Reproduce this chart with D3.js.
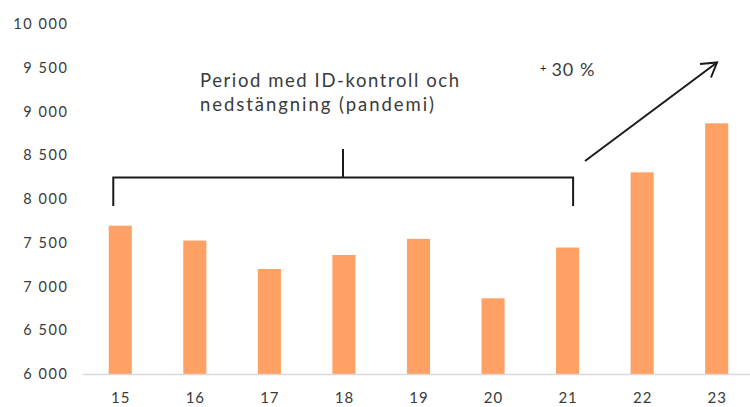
<!DOCTYPE html>
<html><head><meta charset="utf-8">
<script src="https://cdn.jsdelivr.net/npm/d3@7"></script>
<style>body{margin:0;background:#fff}svg{display:block}text{font-family:Lato,"Open Sans",sans-serif;fill:#3a3a3a}</style>
</head><body><svg id="c" width="750" height="407"></svg>
<script>
const categories = ["15","16","17","18","19","20","21","22","23"];
const values = [7695, 7525, 7200, 7360, 7545, 6865, 7445, 8305, 8865];
const yTicks = [6000,6500,7000,7500,8000,8500,9000,9500,10000];
const annotationLines = ["Period med ID-kontroll och","nedstängning (pandemi)"];
const growthLabel = "30 %";

const svg = d3.select("#c");
const x = d3.scaleBand().domain(categories).range([83,754]).paddingInner(0.69).paddingOuter(0.345);
const y = d3.scaleLinear().domain([6000,10000]).range([374,24]);

svg.selectAll("rect.bar").data(values).join("rect")
  .attr("x",(d,i)=>x(categories[i]))
  .attr("width",x.bandwidth())
  .attr("y",d=>y(d))
  .attr("height",d=>y(6000)-y(d))
  .attr("fill","#FFA064");

svg.append("line").attr("x1",83).attr("x2",750).attr("y1",y(6000)+0.5).attr("y2",y(6000)+0.5)
  .attr("stroke","#d9d9d9").attr("stroke-width",1.5);

svg.selectAll("text.ylab").data(yTicks).join("text")
  .attr("x",68.5).attr("y",d=>y(d)).attr("dy","0.35em").attr("text-anchor","end")
  .attr("font-size",14.5).attr("letter-spacing",1.6)
  .text(d=>{const s=String(d);return s.slice(0,s.length-3)+" "+s.slice(-3);});

svg.selectAll("text.xlab").data(categories).join("text")
  .attr("x",d=>x(d)+x.bandwidth()/2+0.5).attr("y",398).attr("dy","0.35em").attr("text-anchor","middle")
  .attr("font-size",15).attr("letter-spacing",1).text(d=>d);

// bracket
const bx1 = x("15")+x.bandwidth()/2-7, bx2 = x("21")+x.bandwidth()/2+5.5;
const by = 177.5, byBottom = 206;
svg.append("path")
  .attr("d",`M${bx1},${byBottom}V${by}H${bx2}V${byBottom}M${343},${by}V149`)
  .attr("fill","none").attr("stroke","#1a1a1a").attr("stroke-width",2);

svg.selectAll("text.ann").data(annotationLines).join("text")
  .attr("x",200).attr("y",(d,i)=>86.5+i*24).attr("font-size",18.5)
  .attr("textLength",(d,i)=>i===0?259:234).attr("lengthAdjust","spacing").text(d=>d);

// arrow
const ax1=585, ay1=161, ax2=717, ay2=62.5;
svg.append("line").attr("x1",ax1).attr("y1",ay1).attr("x2",ax2).attr("y2",ay2)
  .attr("stroke","#1a1a1a").attr("stroke-width",2);
svg.append("path").attr("d",`M${ax2-17},${ay2+1.5}L${ax2},${ay2}L${ax2-6},${ay2+15}`)
  .attr("fill","none").attr("stroke","#1a1a1a").attr("stroke-width",2).attr("stroke-linejoin","miter");

const g = svg.append("text").attr("x",540).attr("y",75.5);
g.append("tspan").attr("font-size",11).attr("dy","-4").attr("fill","#222").text("+");
g.append("tspan").attr("font-size",18).attr("dx",5).attr("dy","4").attr("letter-spacing",1).text(growthLabel);
</script></body></html>
